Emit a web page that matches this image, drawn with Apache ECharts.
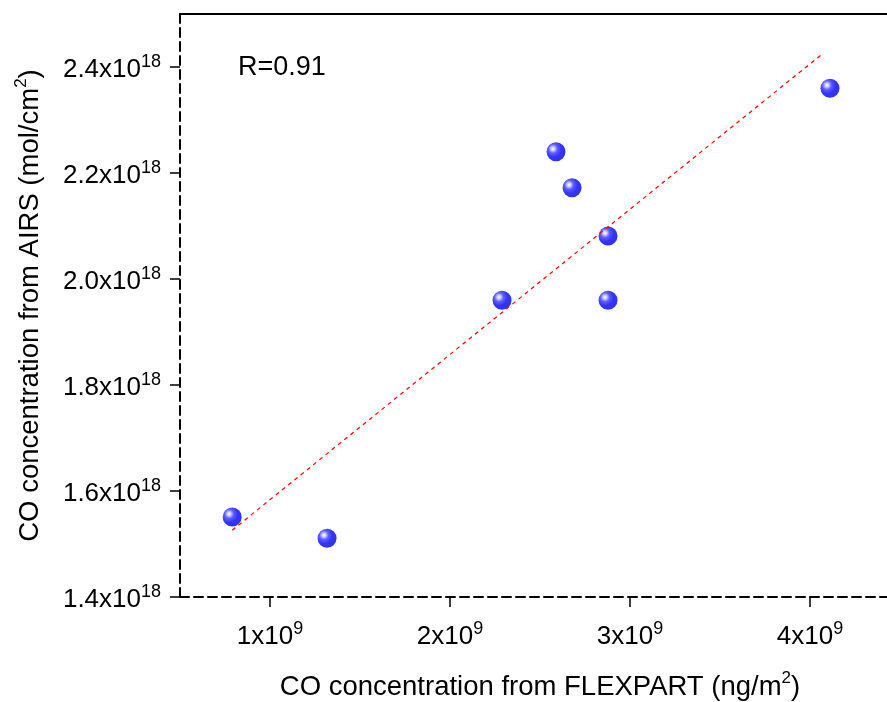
<!DOCTYPE html>
<html>
<head>
<meta charset="utf-8">
<script src="https://cdn.jsdelivr.net/npm/echarts@6/dist/echarts.min.js"></script>
<style>html,body{margin:0;padding:0;background:#fff}#c{width:887px;height:702px}</style>
</head>
<body>
<div id="c"></div>
<script>
// Data (x: ng/m^2, y: mol/cm^2)
const flexpartX = [0.79e9, 1.317e9, 2.289e9, 2.589e9, 2.678e9, 2.878e9, 2.878e9, 4.111e9];
const airsY = [1.551e18, 1.511e18, 1.960e18, 2.240e18, 2.172e18, 2.081e18, 1.960e18, 2.360e18];
const fitX = [0.79e9, 4.07e9];
const fitY = [1.526e18, 2.425e18];
const xTicks = [1e9, 2e9, 3e9, 4e9];
const yTicks = [1.4e18, 1.6e18, 1.8e18, 2.0e18, 2.2e18, 2.4e18];
const rLabel = 'R=0.91';

const FONT = '"Liberation Sans", Arial, sans-serif';
const chart = echarts.init(document.getElementById('c'), null, {renderer: 'canvas'});

const richTick = {
  a: {fontSize: 26, fontFamily: FONT, color: '#000', lineHeight: 32, verticalAlign: 'bottom'},
  s: {fontSize: 18, fontFamily: FONT, color: '#000', lineHeight: 32, verticalAlign: 'bottom', padding: [0, 0, 12, 0]}
};
const richName = {
  a: {fontSize: 27.5, fontFamily: FONT, color: '#000', lineHeight: 34, verticalAlign: 'bottom'},
  s: {fontSize: 17, fontFamily: FONT, color: '#000', lineHeight: 34, verticalAlign: 'bottom', padding: [0, 0, 14, 0]}
};

const dashStyle = {color: '#000', width: 2, type: [9, 5]};

chart.setOption({
  animation: false,
  backgroundColor: '#fff',
  grid: {left: 180, top: 14, width: 720, bottom: 105, containLabel: false, outerBoundsMode: 'none'},
  xAxis: [{
    type: 'value', min: 0.5e9, max: 4.5e9, position: 'bottom',
    splitLine: {show: false},
    axisLine: {show: true, onZero: false, lineStyle: dashStyle},
    axisTick: {show: true, length: 10, inside: false, customValues: xTicks, lineStyle: {color: '#000', width: 1.5}},
    axisLabel: {
      customValues: xTicks, margin: 21,
      formatter: v => '{a|' + Math.round(v / 1e9) + 'x10}{s|9}', rich: richTick
    },
    name: '{a|CO concentration from FLEXPART (ng/m}{s|2}{a|)}',
    nameLocation: 'middle', nameGap: 70, nameTextStyle: {rich: richName}
  }, {
    type: 'value', min: 0.5e9, max: 4.5e9, position: 'top',
    splitLine: {show: false},
    axisLine: {show: true, onZero: false, lineStyle: {color: '#000', width: 2}},
    axisTick: {show: false}, axisLabel: {show: false}
  }],
  yAxis: {
    type: 'value', min: 1.4e18, max: 2.5e18,
    splitLine: {show: false},
    axisLine: {show: true, onZero: false, lineStyle: dashStyle},
    axisTick: {show: true, length: 10, customValues: yTicks, lineStyle: {color: '#000', width: 1.5}},
    axisLabel: {
      customValues: yTicks, margin: 19,
      formatter: v => '{a|' + (v / 1e18).toFixed(1) + 'x10}{s|18}', rich: richTick
    },
    name: '{a|CO concentration from AIRS (mol/cm}{s|2}{a|)}',
    nameLocation: 'middle', nameGap: 136, nameRotate: 90, nameTextStyle: {rich: richName}
  },
  series: [{
    type: 'line', xAxisIndex: 0,
    data: fitX.map((x, i) => [x, fitY[i]]),
    symbol: 'none', silent: true,
    lineStyle: {color: '#ff0000', width: 1.2, type: [4, 4]}
  }, {
    type: 'scatter', xAxisIndex: 0,
    data: flexpartX.map((x, i) => [x, airsY[i]]),
    symbolSize: 19,
    itemStyle: {
      color: {
        type: 'radial', x: 0.34, y: 0.34, r: 0.75,
        colorStops: [
          {offset: 0, color: '#ffffff'},
          {offset: 0.12, color: '#c8c8ff'},
          {offset: 0.32, color: '#3535ff'},
          {offset: 0.6, color: '#0000ff'},
          {offset: 1, color: '#0000d8'}
        ]
      }
    }
  }],
  graphic: [{
    type: 'text', left: 238, top: 54,
    style: {text: rLabel, font: '27px ' + FONT, fill: '#000'}
  }]
});
</script>
</body>
</html>
